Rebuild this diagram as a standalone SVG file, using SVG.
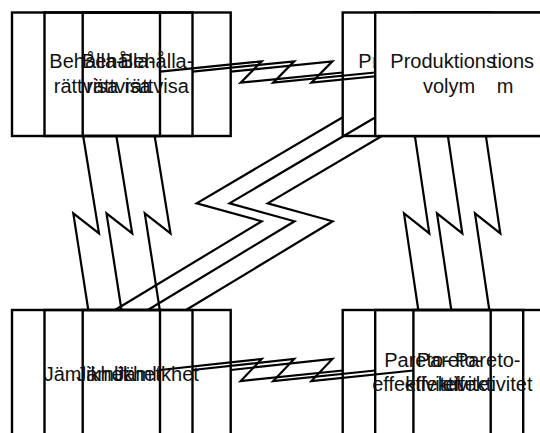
<svg xmlns="http://www.w3.org/2000/svg" width="540" height="433" viewBox="0 0 540 433">
<style>
.n{fill:none;stroke:#000;stroke-width:2.4}
.w{fill:#fff;stroke:#000;stroke-width:2.4}
.c{fill:none;stroke:#000;stroke-width:2.2;stroke-linejoin:miter}
text{font-family:"Liberation Sans",Arial,Helvetica,sans-serif;font-size:20px;fill:#111}
.m{text-anchor:middle}
</style>
<defs>
<clipPath id="clip1"><rect x="340" y="14" width="33.5" height="120"/></clipPath>
<clipPath id="clip3"><rect x="491" y="14" width="55" height="60"/><rect x="497.8" y="74" width="50" height="60"/></clipPath>
<path id="ctop" d="M160,71.7 L261.7,61.3 L240.7,82.7 L342.7,72.5"/>
<path id="cbot" d="M160,370 L261.7,359 L240.7,381 L342.7,370.5"/>
<path id="cleft" d="M83.3,136.7 L99,233.3 L73.3,213.3 L88.3,310"/>
<path id="cright" d="M415,136.7 L429.3,233.3 L404,213.3 L418.3,310"/>
<path id="cdiag" d="M342.7,117.3 L196.7,203.3 L261.7,221.3 L115,310"/>
</defs>
<rect width="540" height="433" fill="#fff"/>
<g id="connectors" class="c">
<use href="#ctop"/><use href="#ctop" x="32.5"/><use href="#ctop" x="70.7"/>
<use href="#cbot"/><use href="#cbot" x="32.5"/><use href="#cbot" x="70.7"/>
<use href="#cleft"/><use href="#cleft" x="33.2"/><use href="#cleft" x="71.5"/>
<use href="#cright"/><use href="#cright" x="33"/><use href="#cright" x="71"/>
<use href="#cdiag"/><use href="#cdiag" x="32.8"/><use href="#cdiag" x="71"/>
</g>
<g id="node-behalla">
<rect class="n" x="12" y="12.5" width="148" height="123.5"/>
<rect class="n" x="44.5" y="12.5" width="148" height="123.5"/>
<rect class="n" x="82.7" y="12.5" width="148" height="123.5"/>
<text class="m" x="86" y="67.5">Behålla-</text><text class="m" x="86" y="93">rättvisa</text>
<text class="m" x="118.5" y="67.5">Behålla-</text><text class="m" x="118.5" y="93">rättvisa</text>
<text class="m" x="156.7" y="67.5">Behålla-</text><text class="m" x="156.7" y="93">rättvisa</text>
</g>
<g id="node-produktion">
<rect class="n" x="342.7" y="12.5" width="148" height="123.5"/>
<text x="358.3" y="68" clip-path="url(#clip1)">Produktions</text>
<rect class="n" x="413.4" y="12.5" width="148" height="123.5"/>
<rect class="w" x="375.2" y="12.5" width="175" height="123.5"/>
<g clip-path="url(#clip3)"><text x="428.5" y="68">Produktions</text><text class="m" x="487.2" y="92.5">volym</text></g>
<text x="390.3" y="68">Produktions</text><text class="m" x="449" y="92.5">volym</text>
</g>
<g id="node-jamlikhet">
<rect class="n" x="12" y="310" width="148" height="135"/>
<rect class="n" x="44.5" y="310" width="148" height="135"/>
<rect class="n" x="82.7" y="310" width="148" height="135"/>
<text class="m" x="86" y="380.5">Jämlikhet</text>
<text class="m" x="118.5" y="380.5">Jämlikhet</text>
<text class="m" x="156.7" y="380.5">Jämlikhet</text>
</g>
<g id="node-pareto">
<rect class="n" x="342.7" y="310" width="148" height="135"/>
<rect class="n" x="375.2" y="310" width="148" height="135"/>
<rect class="n" x="413.4" y="310" width="148" height="135"/>
<text class="m" x="417" y="366.5">Pareto-</text><text class="m" x="417" y="391">effektivitet</text>
<text class="m" x="449.5" y="366.5">Pareto-</text><text class="m" x="449.5" y="391">effektivitet</text>
<text class="m" x="487.7" y="366.5">Pareto-</text><text class="m" x="487.7" y="391">effektivitet</text>
</g>
</svg>
